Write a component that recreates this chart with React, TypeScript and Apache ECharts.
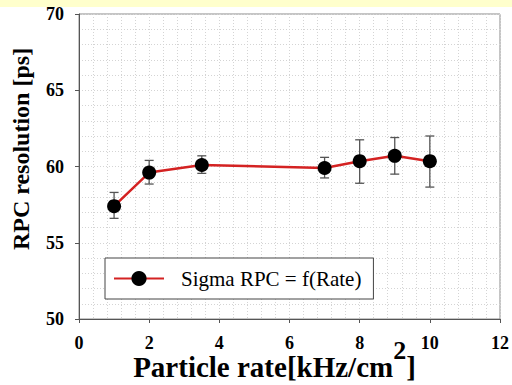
import React, { useEffect, useRef } from "react";
import * as echarts from "echarts";

const rates = [1, 2, 3.5, 7, 8, 9, 10];
const sigma = [57.4, 59.6, 60.1, 59.9, 60.35, 60.7, 60.35];
const errLow = [56.6, 58.85, 59.55, 59.25, 58.9, 59.5, 58.65];
const errHigh = [58.3, 60.4, 60.7, 60.6, 61.75, 61.9, 62.0];
const seriesName = "Sigma RPC = f(Rate)";
const xTitle = "Particle rate[kHz/cm";
const yTitle = "RPC resolution [ps]";

const SERIF = "Liberation Serif";

export default function App() {
  const ref = useRef<HTMLDivElement>(null);
  useEffect(() => {
    if (!ref.current) return;
    const chart = echarts.init(ref.current, undefined, { renderer: "svg" });
    const lineData = rates.map((r, i) => [r, sigma[i]]);
    const errData = rates.map((r, i) => [r, errLow[i], errHigh[i]]);
    const gridLine = { type: [1, 2] as any, color: "#d4d4d4", width: 1 };
    const tickLabel = {
      formatter: "{t|{value}}",
      margin: 15,
      rich: { t: { fontFamily: SERIF, fontWeight: "bold", fontSize: 18, color: "#000" } },
    };
    chart.setOption({
      animation: false,
      backgroundColor: "#ffffff",
      textStyle: { fontFamily: SERIF },
      graphic: [
        { type: "rect", shape: { x: 0, y: 0, width: 512, height: 7 }, style: { fill: "#FFFFCC" }, z: 10 },
        {
          type: "text",
          x: 21,
          y: 149,
          rotation: Math.PI / 2,
          style: {
            text: yTitle,
            font: `bold 24px ${SERIF}`,
            fill: "#000",
            textAlign: "center",
            textVerticalAlign: "middle",
            align: "center",
            verticalAlign: "middle",
          } as any,
        },
      ],
      grid: {
        left: 79,
        right: 12,
        top: 14,
        bottom: 66,
        outerBoundsMode: "none",
        containLabel: false,
        show: true,
        borderColor: "#8a8a8a",
        borderWidth: 1,
      },
      legend: {
        left: 105,
        top: 258,
        orient: "horizontal",
        backgroundColor: "#ffffff",
        borderColor: "#444",
        borderWidth: 1,
        borderRadius: 0,
        padding: [10, 12, 10, 8],
        itemWidth: 50,
        itemHeight: 19,
        formatter: "{t|{name}}",
        textStyle: {
          fontFamily: SERIF,
          fontSize: 21,
          color: "#000",
          rich: { t: { fontFamily: SERIF, fontSize: 21, color: "#000", padding: [0, 0, 0, 12] } },
        },
        data: [seriesName],
      },
      xAxis: {
        type: "value",
        min: 0,
        max: 12,
        interval: 2,
        name: `{a|${xTitle}}{s|2}{a|]}`,
        nameLocation: "middle",
        nameGap: 18,
        nameMoveOverlap: false,
        nameTextStyle: {
          fontFamily: SERIF,
          padding: [0, 30, 0, 0],
          rich: {
            a: { fontFamily: SERIF, fontWeight: "bold", fontSize: 29, color: "#000", verticalAlign: "bottom", lineHeight: 44 },
            s: { fontFamily: SERIF, fontWeight: "bold", fontSize: 26, color: "#000", verticalAlign: "top", lineHeight: 20 },
          },
        },
        axisLine: { show: true, lineStyle: { color: "#555", width: 1 } },
        axisTick: { show: true, inside: false, length: 4, lineStyle: { color: "#555" } },
        axisLabel: tickLabel,
        splitLine: { show: true, lineStyle: gridLine },
        minorTick: { show: false, splitNumber: 5 },
        minorSplitLine: { show: true, lineStyle: gridLine },
      },
      yAxis: {
        type: "value",
        min: 50,
        max: 70,
        interval: 5,
        axisLine: { show: true, lineStyle: { color: "#555", width: 1 } },
        axisTick: { show: true, inside: false, length: 4, lineStyle: { color: "#555" } },
        axisLabel: tickLabel,
        splitLine: { show: true, lineStyle: gridLine },
        minorTick: { show: false, splitNumber: 5 },
        minorSplitLine: { show: true, lineStyle: gridLine },
      },
      series: [
        {
          type: "custom",
          name: "err",
          data: errData,
          z: 2,
          encode: { x: 0, y: [1, 2] },
          renderItem: (params: any, api: any) => {
            const x = api.value(0);
            const lo = api.coord([x, api.value(1)]);
            const hi = api.coord([x, api.value(2)]);
            const cap = 4.5;
            const style = { stroke: "#555", lineWidth: 1.3 };
            return {
              type: "group",
              children: [
                { type: "line", shape: { x1: lo[0], y1: lo[1], x2: hi[0], y2: hi[1] }, style },
                { type: "line", shape: { x1: lo[0] - cap, y1: lo[1], x2: lo[0] + cap, y2: lo[1] }, style },
                { type: "line", shape: { x1: hi[0] - cap, y1: hi[1], x2: hi[0] + cap, y2: hi[1] }, style },
              ],
            };
          },
        },
        {
          type: "line",
          name: seriesName,
          data: lineData,
          z: 3,
          symbol: "circle",
          symbolSize: 14,
          lineStyle: { color: "#d42222", width: 2.5 },
          itemStyle: { color: "#000" },
        },
      ],
    });
    return () => chart.dispose();
  }, []);
  return (
    <div
      ref={ref}
      style={{ position: "fixed", left: 0, top: 0, width: 512, height: 385, background: "#fff" }}
    />
  );
}
